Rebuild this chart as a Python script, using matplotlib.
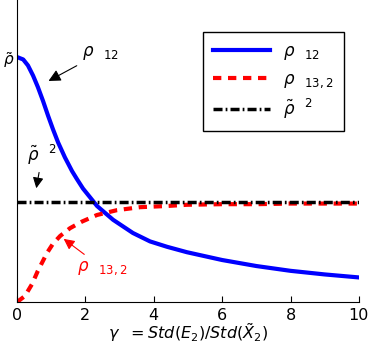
import matplotlib
matplotlib.use("Agg")
import matplotlib.pyplot as plt

# values
gamma_blue = [0, 0.18, 0.32, 0.47, 0.61, 0.76, 0.91, 1.05, 1.2, 1.4, 1.61, 1.75, 1.93,
              2.34, 2.81, 3.39, 3.89, 4.39, 4.97, 6.0, 7.0, 8.0, 9.0, 10]
rho12 = [0.408, 0.404, 0.394, 0.377, 0.358, 0.335, 0.310, 0.288, 0.266, 0.241, 0.218, 0.205, 0.189,
         0.160, 0.137, 0.115, 0.101, 0.092, 0.083, 0.070, 0.060, 0.052, 0.046, 0.041]

gamma_red = [0, 0.23, 0.44, 0.61, 0.88, 1.05, 1.26, 1.55, 1.9, 2.34, 2.92,
             3.6, 4.39, 4.97, 6, 7, 8, 9, 10]
rho13_2 = [0, 0.010, 0.030, 0.052, 0.082, 0.097, 0.110, 0.123, 0.134, 0.145, 0.153,
           0.158, 0.160, 0.162, 0.163, 0.163, 0.164, 0.164, 0.164]

rho_tilde = 0.408
rho_tilde_sq = 0.167

fig = plt.figure(figsize=(3.7, 3.46), dpi=100)
ax = fig.add_axes([0.046, 0.127, 0.924, 0.873])

ax.plot(gamma_blue, rho12, color="blue", lw=3, label=r"$\rho\ \ _{12}$")
ax.plot(gamma_red, rho13_2, color="red", lw=3, ls=(0, (2, 1.6)), label=r"$\rho\ \ _{13,2}$")
ax.plot([0, 10], [rho_tilde_sq, rho_tilde_sq], color="black", lw=2.5,
        ls=(0, (2.6, 0.9, 0.5, 0.9)), label=r"$\tilde{\rho}\ \ ^{2}$")

ax.set_xlim(0, 10)
ax.set_ylim(0, 0.503)
ax.set_xticks([0, 2, 4, 6, 8, 10])
ax.set_yticks([rho_tilde])
ax.set_yticklabels([r"$\tilde{\rho}$"])
ax.tick_params(axis="x", direction="in", length=4, labelsize=11.5, pad=4)
ax.tick_params(axis="y", length=0, labelsize=11, pad=2)
for s in ["top", "right"]:
    ax.spines[s].set_visible(False)

ax.set_xlabel(r"$\gamma\ \ = Std(E_2)/Std(\tilde{X}_2)$", fontsize=11.5, labelpad=-1)

ax.annotate(r"$\rho\ \ _{12}$", xy=(0.85, 0.366), xytext=(1.9, 0.41),
            fontsize=12, arrowprops=dict(arrowstyle="-|>", color="black", lw=0.8,
                                        mutation_scale=18))
ax.annotate(r"$\tilde{\rho}\ \ ^{2}$", xy=(0.55, 0.185), xytext=(0.3, 0.235),
            fontsize=12, arrowprops=dict(arrowstyle="-|>", color="black", lw=0.8,
                                        mutation_scale=16))
ax.annotate(r"$\rho\ \ _{13,2}$", xy=(1.3, 0.108), xytext=(1.75, 0.052),
            fontsize=12, color="red",
            arrowprops=dict(arrowstyle="-|>", color="red", lw=0.8, mutation_scale=16))

leg = ax.legend(loc="upper right", bbox_to_anchor=(0.956, 0.894), borderaxespad=0,
                fontsize=12, fancybox=False, edgecolor="black", framealpha=1,
                handlelength=3.4, labelspacing=0.45, borderpad=0.6)
leg.get_frame().set_linewidth(1)

fig.savefig("out.png", dpi=100)
